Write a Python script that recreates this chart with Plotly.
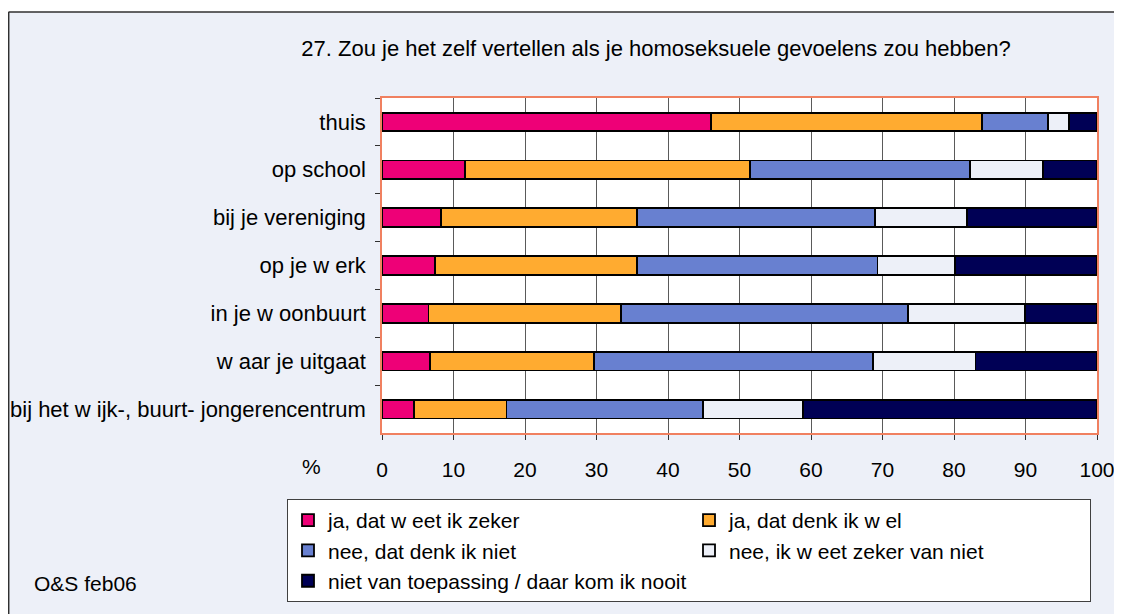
import plotly.graph_objects as go

categories = ["thuis", "op school", "bij je vereniging", "op je w erk",
              "in je w oonbuurt", "w aar je uitgaat",
              "bij het w ijk-, buurt- jongerencentrum"]

series_names = ["ja, dat w eet ik zeker", "ja, dat denk ik w el",
                "nee, dat denk ik niet", "nee, ik w eet zeker van niet",
                "niet van toepassing / daar kom ik nooit"]

ja_zeker = [46.0, 11.6, 8.2, 7.4, 6.5, 6.7, 4.5]
ja_denk = [37.9, 39.9, 27.5, 28.3, 26.9, 23.0, 12.9]
nee_denk = [9.3, 30.7, 33.3, 33.6, 40.2, 39.0, 27.5]
nee_zeker = [2.9, 10.3, 12.8, 10.8, 16.3, 14.3, 14.0]
nvt = [3.9, 7.5, 18.2, 19.9, 10.1, 17.0, 41.1]

series_values = [ja_zeker, ja_denk, nee_denk, nee_zeker, nvt]
colors = ["#EE0077", "#FFAB30", "#6880D0", "#EDF0F8", "#000055"]

x_ticks = [0, 10, 20, 30, 40, 50, 60, 70, 80, 90, 100]

title_text = "27. Zou je het zelf vertellen als je homoseksuele gevoelens zou hebben?"
source_text = "O&S feb06"

# the page adds an 8px body margin; the figure is sized to fill the rest
OFF = 8
W, H = 1122 - OFF, 614 - OFF
L, R, T, B = 382 - OFF, 25, 98 - OFF, 181
PW, PH = W - L - R, H - T - B

def px(xref_px):
    return (xref_px - OFF - L) / PW

def py(yref_px):
    return (H - B - (yref_px - OFF)) / PH

FONT = "Liberation Sans, Arial, sans-serif"

fig = go.Figure()
for name, vals, col in zip(series_names, series_values, colors):
    fig.add_trace(go.Bar(
        y=categories, x=vals, name=name, orientation="h",
        marker=dict(color=col, line=dict(color="#000000", width=1.8)),
    ))

shapes = [
    dict(type="rect", xref="paper", yref="paper", x0=px(0), x1=px(1130), y0=py(12), y1=py(0),
         fillcolor="white", line=dict(width=0), layer="below"),
    dict(type="line", xref="paper", yref="paper", x0=px(8.5), x1=px(1130), y0=py(12), y1=py(12),
         line=dict(color="#303030", width=1.5)),
    dict(type="line", xref="paper", yref="paper", x0=px(8.7), x1=px(8.7), y0=py(12), y1=py(620),
         line=dict(color="#303030", width=1.5)),
]

fig.update_layout(
    width=W, height=H,
    margin=dict(l=L, r=R, t=T, b=B, pad=0, autoexpand=False),
    barmode="stack", bargap=0.61,
    paper_bgcolor="#EDF0F8", plot_bgcolor="white",
    font=dict(family=FONT, size=22, color="#000000"),
    title=dict(text=title_text, x=(656 - OFF) / W, xref="container", xanchor="center",
               y=1 - (48 - OFF) / H, yref="container", yanchor="middle",
               font=dict(family=FONT, size=22, color="#000000")),
    xaxis=dict(range=[0, 100], tickvals=x_ticks, ticktext=[str(v) for v in x_ticks],
               showgrid=True, gridcolor="#5a5a5a", gridwidth=1,
               showline=True, linecolor="#F08060", linewidth=1.5, mirror=True,
               ticks="outside", ticklen=5, tickcolor="#303030",
               ticklabelstandoff=12, zeroline=False, automargin=False,
               tickfont=dict(family=FONT, size=21)),
    yaxis=dict(categoryorder="array", categoryarray=categories, autorange="reversed",
               showline=True, linecolor="#F08060", linewidth=1.5, mirror=True,
               ticks="outside", ticklen=5, tickcolor="#303030", tickson="boundaries",
               ticklabelstandoff=10, showgrid=False, automargin=False,
               tickfont=dict(family=FONT, size=22)),
    legend=dict(orientation="h", xref="paper", yref="paper",
                x=px(287), xanchor="left", y=py(499), yanchor="top",
                entrywidth=356, entrywidthmode="pixels",
                bgcolor="white", bordercolor="#404040", borderwidth=1,
                font=dict(family=FONT, size=21), traceorder="normal"),
    shapes=shapes,
    annotations=[
        dict(text="%", xref="paper", yref="paper", x=px(311), y=py(466),
             xanchor="center", yanchor="middle", showarrow=False,
             font=dict(family=FONT, size=21)),
        dict(text=source_text, xref="paper", yref="paper", x=px(32), y=py(583),
             xanchor="left", yanchor="middle", showarrow=False,
             font=dict(family=FONT, size=21)),
    ],
    showlegend=True,
)

fig.write_html("out.html")
